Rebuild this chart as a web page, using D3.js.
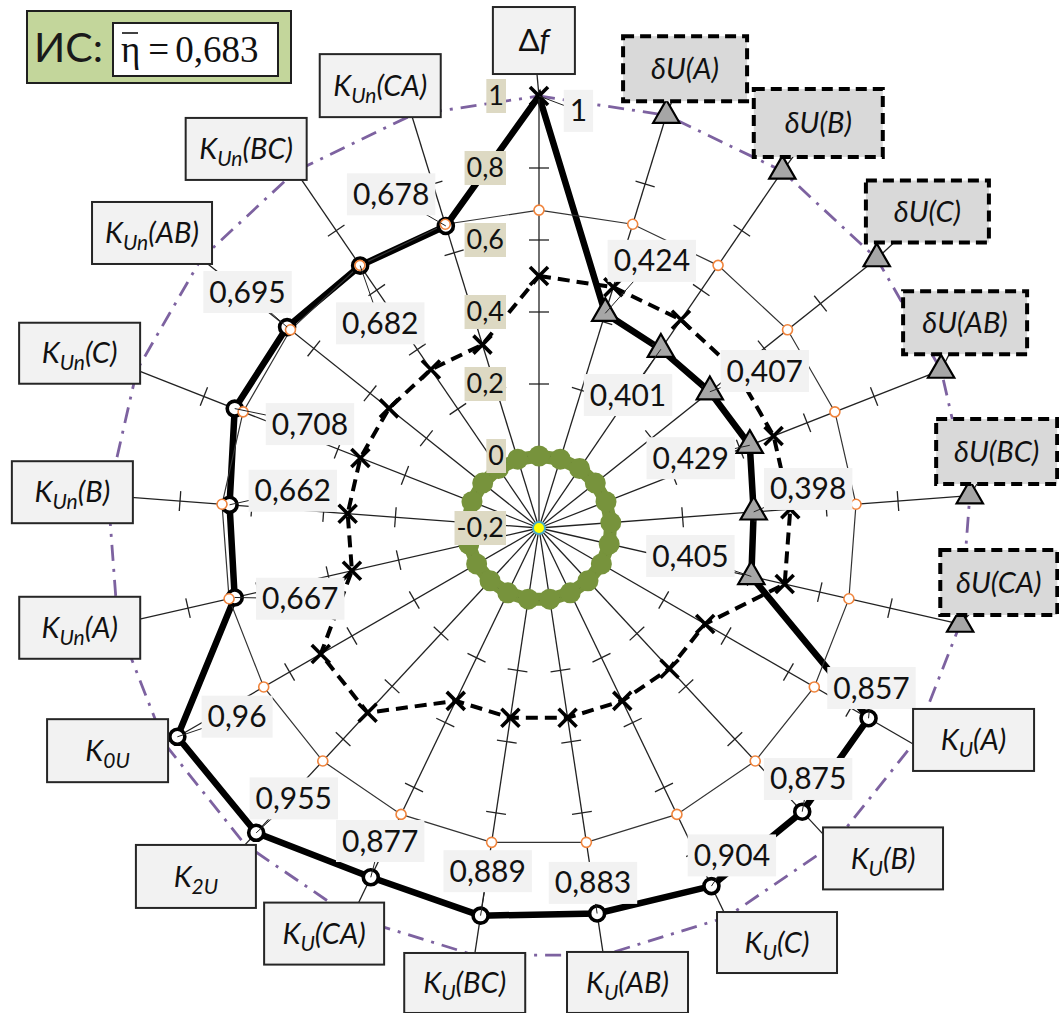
<!DOCTYPE html>
<html>
<head>
<meta charset="utf-8">
<script src="https://cdn.jsdelivr.net/npm/d3@7"></script>
<style>
  body { margin: 0; background: #fff; }
  svg { display: block; font-family: Lato, "Open Sans", sans-serif; }
</style>
</head>
<body>
<svg id="chart" width="1059" height="1013"></svg>
<script>
/* Radar chart: indicators of voltage quality */

// axes (K_x -> K with subscript x)
var axisNames = ["Δf", "δU(A)", "δU(B)", "δU(C)", "δU(AB)", "δU(BC)", "δU(CA)",
  "K_U(A)", "K_U(B)", "K_U(C)", "K_U(AB)", "K_U(BC)", "K_U(CA)", "K_2U", "K_0U",
  "K_Un(A)", "K_Un(B)", "K_Un(C)", "K_Un(AB)", "K_Un(BC)", "K_Un(CA)"];

// main series (thick line)
var indicatorValues = [1, 0.424, 0.401, 0.407, 0.429, 0.398, 0.405,
  0.857, 0.875, 0.904, 0.883, 0.889, 0.877, 0.955, 0.96,
  0.667, 0.662, 0.708, 0.695, 0.682, 0.678];
var markerKinds = ["x", "tri", "tri", "tri", "tri", "tri", "tri",
  "circ", "circ", "circ", "circ", "circ", "circ", "circ", "circ",
  "circ", "circ", "circ", "circ", "circ", "circ"];

// weights (dashed line)
var weightValues = [0.5, 0.5, 0.5, 0.5, 0.5, 0.5, 0.5,
  0.333, 0.333, 0.333, 0.333, 0.333, 0.333, 0.5, 0.5,
  0.333, 0.333, 0.333, 0.333, 0.333, 0.333];

// mean value (thin line, orange markers)
var meanValue = 0.683;
var meanValues = [0.683, 0.683, 0.683, 0.683, 0.683, 0.683, 0.683,
  0.683, 0.683, 0.683, 0.683, 0.683, 0.683, 0.683, 0.683,
  0.683, 0.683, 0.683, 0.683, 0.683, 0.683];

// limit line (purple dash-dot) and limit markers on δU axes
var limitValues = [1, 1, 1, 1, 1, 1, 1, 1, 1, 1, 1, 1, 1, 1, 1, 1, 1, 1, 1, 1, 1];
var limitMarks = [null, 1, 1, 1, 1, 1, 1, null, null, null, null, null, null,
  null, null, null, null, null, null, null, null];

// zero ring (green) and centre
var zeroValues = [0, 0, 0, 0, 0, 0, 0, 0, 0, 0, 0, 0, 0, 0, 0, 0, 0, 0, 0, 0, 0];
var centerValues = [-0.2];

// value axis
var axisTicks = [1, 0.8, 0.6, 0.4, 0.2, 0, -0.2];
var spokeTicks = [0, 0.2, 0.4, 0.6, 0.8];

// layout: name boxes [radius px, angle nudge deg], [w, h]
var nameBoxPolar = [[487.5, -0.6], [482, 0.5], [492, 0.3], [501, -0.6], [473, -4.3], [464, -5.2],
  [463, -6.1], [483.5, -4.0], [477, -3.3], [478, -4.15], [463, -2.45], [461, 0.7], [459, 2.2],
  [489, 1.7], [485.5, 2.7], [470, 0.6], [468, 0.1], [491.5, -0.6], [486.6, -1.25], [479, -3.4],
  [470, -2.6]];
var nameBoxSize = [[82, 67], [124, 65], [129, 68], [123, 62], [124, 63], [121, 65], [117, 65],
  [121, 62], [120, 62], [120, 61], [121, 61], [121, 60], [120, 62], [120, 63], [121, 63],
  [121, 62], [121, 62], [121, 61], [120, 62], [121, 62], [121, 63]];
// layout: value labels [radius px, angle deg]
var valueLabelPolar = [[419, 5.4], [290, 22.9], [160, 33.8], [275, 55.2], [167, 65.3],
  [272, 81.75], [154, 100.5], [369, 115.7], [368, 133], [380, 149.5], [359, 171.35],
  [347, 188.5], [351, 206.9], [365, 222.2], [356, 238], [249, 253.5], [249, 278.6],
  [251.5, 294.4], [375, 309], [259, 322.2], [365, 336.1]];

(function() {

var svg = d3.select("#chart");
var cx = 539, cy = 528;
var n = axisNames.length;
var step = 2 * Math.PI / n;
var r = d3.scaleLinear().domain([-0.2, 1]).range([0, 432]);
var fmt = d3.formatLocale({decimal: ",", thousands: " ", grouping: [3], currency: ["", ""], minus: "-"}).format(".3~f");

function polar(rad, a) { return [cx + rad * Math.sin(a), cy - rad * Math.cos(a)]; }
function pt(i, v) { return polar(r(v), i * step); }

var g = svg.append("g");
var radial = d3.lineRadial()
  .angle(function(d, i) { return i * step; })
  .radius(function(d) { return r(d); })
  .curve(d3.curveLinearClosed);
var plot = g.append("g").attr("transform", "translate(" + cx + "," + cy + ")");

/* spokes and ticks */
axisNames.forEach(function(name, i) {
  var a = i * step, e = pt(i, 1);
  g.append("line").attr("x1", cx).attr("y1", cy).attr("x2", e[0]).attr("y2", e[1])
    .attr("stroke", "#222").attr("stroke-width", 1.3);
  var b = polar(nameBoxPolar[i][0], a + nameBoxPolar[i][1] * Math.PI / 180);
  g.append("line").attr("x1", e[0]).attr("y1", e[1]).attr("x2", b[0]).attr("y2", b[1])
    .attr("stroke", "#222").attr("stroke-width", 1.3);
  spokeTicks.forEach(function(t) {
    var p = pt(i, t), ux = Math.cos(a) * 10, uy = Math.sin(a) * 10;
    g.append("line").attr("x1", p[0] - ux).attr("y1", p[1] - uy)
      .attr("x2", p[0] + ux).attr("y2", p[1] + uy)
      .attr("stroke", "#222").attr("stroke-width", 1.3);
  });
});

/* limit polygon */
plot.append("path").attr("d", radial(limitValues)).attr("fill", "none")
  .attr("stroke", "#7d62a0").attr("stroke-width", 2.8).attr("stroke-dasharray", "16,8,3,8");

/* zero ring */
plot.append("path").attr("d", radial(zeroValues)).attr("fill", "none")
  .attr("stroke", "#77933c").attr("stroke-width", 13);
zeroValues.forEach(function(v, i) {
  var p = pt(i, v);
  g.append("circle").attr("cx", p[0]).attr("cy", p[1]).attr("r", 10.5).attr("fill", "#77933c");
});

/* weights, dashed */
plot.append("path").attr("d", radial(weightValues)).attr("fill", "none")
  .attr("stroke", "#000").attr("stroke-width", 4).attr("stroke-dasharray", "12,7");

/* indicators, thick */
plot.append("path").attr("d", radial(indicatorValues)).attr("fill", "none")
  .attr("stroke", "#000").attr("stroke-width", 6.5).attr("stroke-linejoin", "miter")
  .attr("stroke-miterlimit", 12);

/* mean polygon, thin */
plot.append("path").attr("d", radial(meanValues)).attr("fill", "none")
  .attr("stroke", "#333").attr("stroke-width", 1.2);

function cross(p, s) {
  g.append("path")
    .attr("d", "M" + (p[0] - s) + "," + (p[1] - s) + "L" + (p[0] + s) + "," + (p[1] + s) +
      "M" + (p[0] - s) + "," + (p[1] + s) + "L" + (p[0] + s) + "," + (p[1] - s))
    .attr("stroke", "#000").attr("stroke-width", 3.6);
}
var tri = d3.symbol(d3.symbolTriangle, 300);
function triangle(p) {
  g.append("path").attr("d", tri()).attr("transform", "translate(" + p[0] + "," + p[1] + ")")
    .attr("fill", "#a6a6a6").attr("stroke", "#000").attr("stroke-width", 2.2);
}

weightValues.forEach(function(v, i) { cross(pt(i, v), 9); });

indicatorValues.forEach(function(v, i) {
  var p = pt(i, v);
  if (markerKinds[i] === "x") cross(p, 9);
  else if (markerKinds[i] === "tri") triangle(p);
  else g.append("circle").attr("cx", p[0]).attr("cy", p[1]).attr("r", 7.5)
    .attr("fill", "#fff").attr("stroke", "#000").attr("stroke-width", 3.6);
});

limitMarks.forEach(function(v, i) { if (v !== null) triangle(pt(i, v)); });

meanValues.forEach(function(v, i) {
  var p = pt(i, v);
  g.append("circle").attr("cx", p[0]).attr("cy", p[1]).attr("r", 5)
    .attr("fill", "#fff").attr("stroke", "#f0843c").attr("stroke-width", 1.6);
});

centerValues.forEach(function(v) {
  var p = pt(0, v);
  g.append("circle").attr("cx", p[0]).attr("cy", p[1]).attr("r", 6)
    .attr("fill", "#ffff00").attr("stroke", "#4bacc6").attr("stroke-width", 2);
});

/* value labels */
indicatorValues.forEach(function(v, i) {
  var p = pt(i, v);
  var c = polar(valueLabelPolar[i][0], valueLabelPolar[i][1] * Math.PI / 180);
  g.append("line").attr("x1", p[0]).attr("y1", p[1]).attr("x2", c[0]).attr("y2", c[1])
    .attr("stroke", "#222").attr("stroke-width", 1);
  var lg = g.append("g");
  var rect = lg.append("rect").attr("fill", "#f2f2f2");
  var t = lg.append("text").attr("x", c[0]).attr("y", c[1]).attr("dy", "0.35em")
    .attr("text-anchor", "middle").attr("font-size", 30).attr("fill", "#111").text(fmt(v));
  var w = t.node().getComputedTextLength() + 12;
  rect.attr("x", c[0] - w / 2).attr("y", c[1] - 21).attr("width", w).attr("height", 42);
});

/* value axis labels */
axisTicks.forEach(function(v) {
  var y = cy - r(v);
  var lg = g.append("g");
  var rect = lg.append("rect").attr("fill", "#ddd9c3");
  var t = lg.append("text").attr("x", cx - 35).attr("y", y).attr("dy", "0.35em")
    .attr("text-anchor", "end").attr("font-size", 27).attr("fill", "#111").text(fmt(v));
  var w = t.node().getComputedTextLength() + 4;
  rect.attr("x", cx - 33 - w).attr("y", y - 17).attr("width", w).attr("height", 34);
});

/* axis name boxes */
axisNames.forEach(function(name, i) {
  var c = polar(nameBoxPolar[i][0], i * step + nameBoxPolar[i][1] * Math.PI / 180);
  var w = nameBoxSize[i][0], h = nameBoxSize[i][1];
  var dashed = name.indexOf("δU") === 0;
  g.append("rect").attr("x", c[0] - w / 2).attr("y", c[1] - h / 2).attr("width", w).attr("height", h)
    .attr("fill", dashed ? "#d9d9d9" : "#f2f2f2")
    .attr("stroke", dashed ? "#000" : "#262626")
    .attr("stroke-width", dashed ? 4 : 2)
    .attr("stroke-dasharray", dashed ? "11,6" : null);
  var t = g.append("text").attr("x", c[0]).attr("y", c[1]).attr("dy", "0.35em")
    .attr("text-anchor", "middle").attr("font-size", 29).attr("fill", "#111");
  if (name === "Δf") {
    t.attr("font-size", 31);
    t.append("tspan").text("Δ");
    t.append("tspan").attr("font-style", "italic").text("f");
    return;
  }
  var m = name.match(/^([^_]+)(?:_(\w+))?(.*)$/);
  t.attr("font-style", "italic");
  t.append("tspan").text(m[1]);
  if (m[2]) {
    t.append("tspan").attr("font-size", 21).attr("dy", 7).text(m[2]);
    if (m[3]) t.append("tspan").attr("dy", -7).text(m[3]);
  } else if (m[3]) {
    t.append("tspan").text(m[3]);
  }
});

/* summary box */
g.append("rect").attr("x", 27).attr("y", 11).attr("width", 264).attr("height", 72)
  .attr("fill", "#c3d69b").attr("stroke", "#1f1f1f").attr("stroke-width", 2);
g.append("text").attr("x", 34).attr("y", 47).attr("dy", "0.36em")
  .attr("font-size", 41).attr("fill", "#1a1a1a").text("ИС:");
g.append("rect").attr("x", 113).attr("y", 23).attr("width", 165).attr("height", 53)
  .attr("fill", "#fff").attr("stroke", "#1f1f1f").attr("stroke-width", 2);
var eta = g.append("text").attr("x", 121).attr("y", 62)
  .attr("font-family", "'Liberation Serif', 'DejaVu Serif', serif")
  .attr("font-size", 37).attr("fill", "#111");
eta.append("tspan").text("η");
eta.append("tspan").attr("dx", 8).text("=");
eta.append("tspan").attr("dx", 6).text(fmt(meanValue));
g.append("line").attr("x1", 122).attr("x2", 138).attr("y1", 33).attr("y2", 33)
  .attr("stroke", "#111").attr("stroke-width", 1.6);

})();
</script>
</body>
</html>
